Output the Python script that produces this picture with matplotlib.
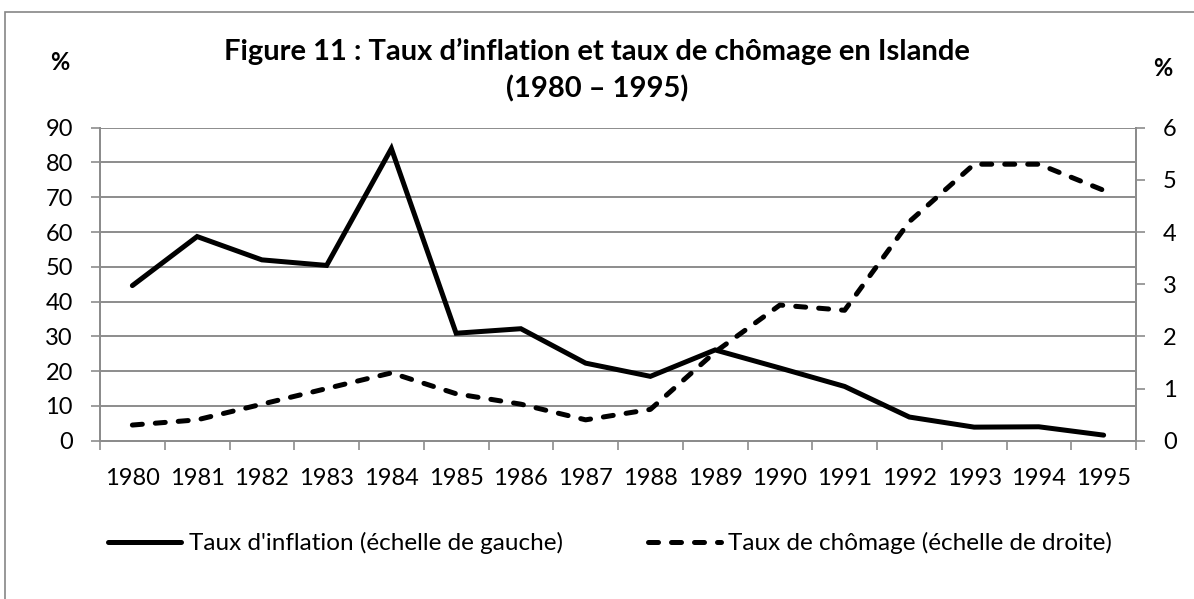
import numpy as np
import matplotlib.pyplot as plt
from matplotlib.patches import Rectangle

years = [str(y) for y in range(1980, 1996)]
inflation = [44.6, 58.7, 52.0, 50.4, 84.0, 30.9, 32.2, 22.3, 18.5, 26.1,
             20.9, 15.6, 6.8, 3.9, 4.0, 1.6]
chomage = [0.3, 0.4, 0.7, 1.0, 1.3, 0.9, 0.7, 0.4, 0.6, 1.7,
           2.6, 2.5, 4.2, 5.3, 5.3, 4.8]

plt.rcParams['font.family'] = ['Lato', 'DejaVu Sans']
grid_col = '#8c8c8c'
fs = 17

fig = plt.figure(figsize=(11.94, 5.99), dpi=100)
fig.patches.append(Rectangle((5 / 1194, -0.05), 1.2, 1 - 12 / 599 + 0.05,
                             transform=fig.transFigure, fill=False,
                             edgecolor='#868686', lw=1.2))

ax = fig.add_axes([100 / 1194, 1 - 440.7 / 599, 1036 / 1194, 313 / 599])
ax2 = ax.twinx()

x = np.arange(len(years))
l1, = ax.plot(x, inflation, color='black', lw=3.6, solid_capstyle='round',
              solid_joinstyle='miter', label="Taux d'inflation (échelle de gauche)")
l2, = ax2.plot(x, chomage, color='black', lw=3.6, linestyle=(0, (2.0, 2.6)),
               dash_capstyle='round', label='Taux de chômage (échelle de droite)')

ax.set_xlim(-0.5, len(years) - 0.5)
ax.set_ylim(0, 90)
ax2.set_ylim(0, 6)
ax.set_yticks(np.arange(0, 91, 10))
ax2.set_yticks(np.arange(0, 7, 1))
ax.set_xticks(x)
ax.set_xticklabels(years)
ax.set_xticks(np.arange(-0.5, len(years), 1), minor=True)
ax.tick_params(axis='x', which='major', length=0, pad=20, labelsize=fs)
ax.tick_params(axis='x', which='minor', length=6.5, color=grid_col, width=1.2)
ax.tick_params(axis='y', length=6.5, color=grid_col, width=1.2, pad=13, labelsize=fs)
ax2.tick_params(axis='y', length=6.5, color=grid_col, width=1.2, pad=13, labelsize=fs)

ax.grid(axis='y', color=grid_col, lw=1.4)
ax.set_axisbelow(True)
for a in (ax, ax2):
    a.spines['top'].set_visible(False)
    for s in ('left', 'right', 'bottom'):
        a.spines[s].set_color(grid_col)
        a.spines[s].set_linewidth(1.4)

fig.text(0.5, 1 - 60 / 599, 'Figure 11 : Taux d’inflation et taux de chômage en Islande',
         ha='center', va='baseline', fontsize=21, fontweight='bold')
fig.text(0.5, 1 - 97 / 599, '(1980 – 1995)', ha='center', va='baseline',
         fontsize=21, fontweight='bold')
fig.text(60 / 1194, 1 - 62 / 599, '%', ha='center', va='center', fontsize=fs, fontweight='bold')
fig.text(1163 / 1194, 1 - 68 / 599, '%', ha='center', va='center', fontsize=fs, fontweight='bold')

fig.legend([l1, l2], [l1.get_label(), l2.get_label()], loc='center',
           bbox_to_anchor=(610 / 1194, 1 - 543 / 599), ncol=2, frameon=False,
           fontsize=17.5, handlelength=3.0, handletextpad=0.3, columnspacing=3.5)

fig.savefig('out.png', dpi=100)
